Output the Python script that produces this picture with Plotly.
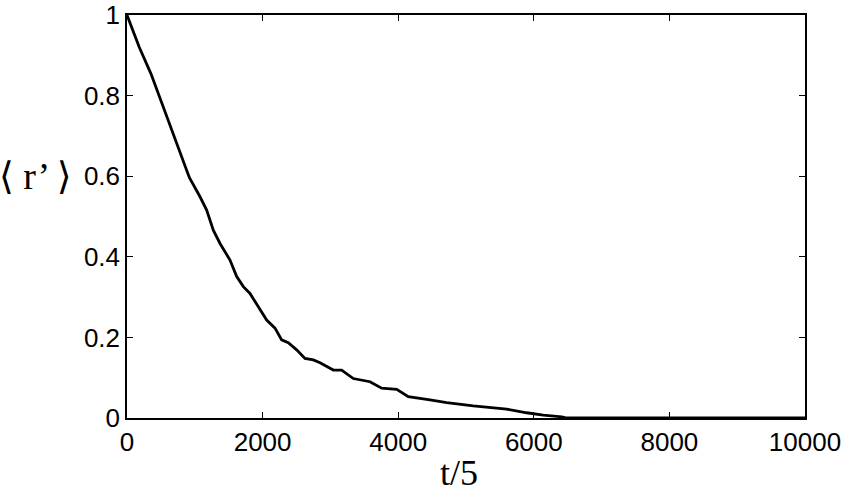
import plotly.graph_objects as go

t_vals = [0, 181, 354, 501, 649, 771, 919, 1077, 1175, 1273, 1372, 1519, 1618,
          1716, 1814, 1937, 2060, 2183, 2281, 2379, 2502, 2625, 2748, 2847,
          2969, 3043, 3166, 3338, 3584, 3756, 3978, 4149, 4469, 4715, 5108,
          5403, 5600, 5895, 6140, 6411, 6460, 10000]
r_vals = [1.0, 0.920, 0.854, 0.787, 0.721, 0.663, 0.597, 0.549, 0.516, 0.466,
          0.433, 0.392, 0.351, 0.326, 0.309, 0.276, 0.243, 0.223, 0.194, 0.187,
          0.169, 0.148, 0.144, 0.137, 0.127, 0.119, 0.119, 0.098, 0.090, 0.074,
          0.071, 0.053, 0.045, 0.038, 0.030, 0.026, 0.022, 0.013, 0.007, 0.003,
          0.0008, 0.0]

x_ticks = [0, 2000, 4000, 6000, 8000, 10000]
y_ticks = [0, 0.2, 0.4, 0.6, 0.8, 1]
y_tick_labels = ["0", "0.2", "0.4", "0.6", "0.8", "1"]

fig = go.Figure()
fig.add_trace(go.Scatter(x=t_vals, y=r_vals, mode="lines",
                         line=dict(color="black", width=2.8), showlegend=False))

tick_font = dict(family="Liberation Sans, Arial, sans-serif", size=26, color="black")
fig.update_layout(
    width=845, height=493,
    margin=dict(l=127, r=40, t=15, b=75, autoexpand=False),
    paper_bgcolor="white", plot_bgcolor="white",
    xaxis=dict(range=[0, 10000], tickvals=x_ticks, ticktext=[str(v) for v in x_ticks],
               ticks="inside", ticklen=6, tickcolor="black", tickwidth=1,
               showline=True, linecolor="black", linewidth=1.5, mirror="ticks",
               showgrid=False, zeroline=False, tickfont=tick_font, automargin=False),
    yaxis=dict(range=[0, 1], tickvals=y_ticks, ticktext=y_tick_labels,
               ticks="inside", ticklen=6, tickcolor="black", tickwidth=1,
               showline=True, linecolor="black", linewidth=1.5, mirror="ticks",
               showgrid=False, zeroline=False, tickfont=tick_font, automargin=False),
)
fig.add_annotation(text="t/5", xref="paper", yref="paper", x=0.49, y=0,
                   yshift=-55, showarrow=False, yanchor="middle",
                   font=dict(family="Liberation Serif, Times New Roman, serif", size=36, color="black"))
fig.add_annotation(text="\u27e8 r\u2019 \u27e9", xref="paper", yref="y", x=0, y=0.6,
                   xshift=-92, showarrow=False, xanchor="center", yanchor="middle",
                   font=dict(family="Liberation Serif, DejaVu Serif, serif", size=38, color="black"))
fig.write_html("out.html", config={"displayModeBar": False},
               post_script="document.body.style.margin='0';document.body.style.overflow='hidden';")
